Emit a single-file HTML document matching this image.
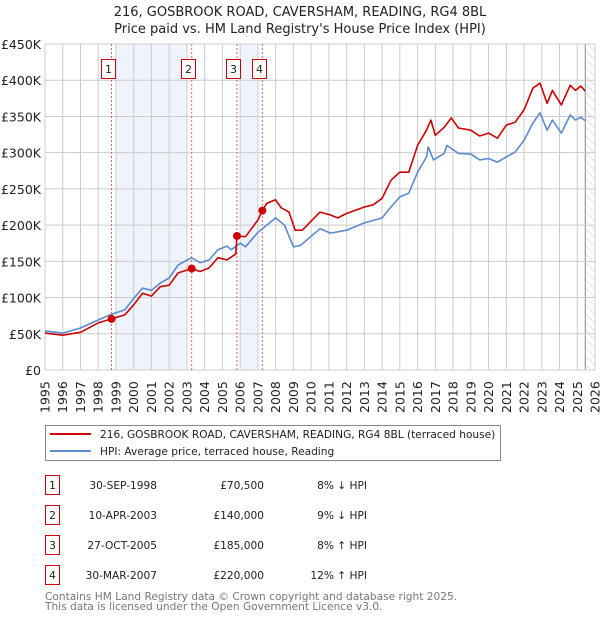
<!DOCTYPE html>
<html><head><meta charset="utf-8">
<style>
body{margin:0;background:#fff;font-family:"DejaVu Sans","Liberation Sans",sans-serif;}
#wrap{position:relative;width:600px;height:620px;overflow:hidden;}
svg text{font-family:"DejaVu Sans","Liberation Sans",sans-serif;}
</style></head>
<body><div id="wrap">
<svg id="chart" width="600" height="620"></svg>
</div>
<script>
const hpiYears=[1995,1996,1997,1998,1998.75,1999.5,2000,2000.5,2001,2001.5,2002,2002.5,2003.25,2003.75,2004.25,2004.75,2005.25,2005.5,2006,2006.3,2007,2007.5,2008,2008.5,2009,2009.4,2010.5,2011.1,2012,2013,2014,2014.5,2015,2015.5,2016,2016.5,2016.6,2016.9,2017.5,2017.65,2018.3,2019,2019.5,2020,2020.5,2021,2021.5,2022,2022.5,2022.9,2023.3,2023.6,2024.1,2024.6,2024.9,2025.2,2025.45];
const hpiValues=[54,51,58,69,77,83,99,113,110,120,127,145,155,148,152,166,171,166,175,170,190,200,210,200,170,172,195,189,193,203,210,225,239,244,273,294,308,290,299,310,299,298,290,292,287,294,301,317,341,355,331,345,327,352,345,349,344];
const priceYears=[1995,1996,1997,1998,1998.75,1999.5,2000,2000.5,2001,2001.5,2002,2002.5,2003.27,2003.75,2004.25,2004.75,2005.25,2005.75,2005.82,2006.3,2007,2007.25,2007.5,2008,2008.3,2008.75,2009.1,2009.5,2010.5,2011.1,2011.5,2012,2013,2013.5,2014,2014.5,2015,2015.5,2016,2016.5,2016.75,2017,2017.5,2017.9,2018.3,2019,2019.5,2020,2020.5,2021,2021.5,2022,2022.5,2022.9,2023.3,2023.6,2024.1,2024.6,2024.9,2025.2,2025.45];
const priceValues=[51,48,52,65,70.5,76,90,106,102,115,117,134,140,136,141,155,152,160,185,184,207,220,230,235,224,218,193,193,218,214,210,216,225,228,237,262,273,273,310,331,345,324,335,348,334,331,323,327,320,338,342,359,389,396,368,386,366,393,386,392,385];
const saleYears=[1998.75,2003.27,2005.82,2007.25];
const saleValues=[70.5,140,185,220];
const saleLabels=["1","2","3","4"];
const saleDates=["30-SEP-1998","10-APR-2003","27-OCT-2005","30-MAR-2007"];
const salePrices=["£70,500","£140,000","£185,000","£220,000"];
const saleHpi=["8% ↓ HPI","9% ↓ HPI","8% ↑ HPI","12% ↑ HPI"];
const yTicks=[0,50,100,150,200,250,300,350,400,450];
const yTickLabels=["£0","£50K","£100K","£150K","£200K","£250K","£300K","£350K","£400K","£450K"];
const xTicks=[1995,1996,1997,1998,1999,2000,2001,2002,2003,2004,2005,2006,2007,2008,2009,2010,2011,2012,2013,2014,2015,2016,2017,2018,2019,2020,2021,2022,2023,2024,2025,2026];
const shadeRanges=[[1999,2003],[2006,2007]];

const L=45,R=595,T=44,B=370;
const X=y=>L+(y-1995)/(2026-1995)*(R-L);
const Y=v=>B-v/450*(B-T);
const NS="http://www.w3.org/2000/svg";
const svg=document.getElementById('chart');
function mk(tag,attrs,parent){const e=document.createElementNS(NS,tag);for(const k in attrs)e.setAttribute(k,attrs[k]);(parent||svg).appendChild(e);return e;}

let t=mk('text',{x:300,y:16,'text-anchor':'middle','font-size':13,fill:'#222'});t.textContent='216, GOSBROOK ROAD, CAVERSHAM, READING, RG4 8BL';


t=mk('text',{x:300,y:33,'text-anchor':'middle','font-size':13,fill:'#222'});t.textContent="Price paid vs. HM Land Registry's House Price Index (HPI)";



shadeRanges.forEach(r=>{const e=mk('rect',{x:X(r[0]),y:T,width:X(r[1])-X(r[0]),height:B-T,fill:'#eef3fc'});

});
const defs=mk('defs',{});
const pat=mk('pattern',{id:'hatch',width:6,height:6,patternUnits:'userSpaceOnUse',patternTransform:'rotate(-45)'},defs);
mk('line',{x1:0,y1:0,x2:0,y2:6,stroke:'#ccc','stroke-width':1},pat);
let h=mk('rect',{x:X(2025.45),y:T,width:R-X(2025.45),height:B-T,fill:'url(#hatch)'});


mk('line',{x1:X(2025.45),y1:T,x2:X(2025.45),y2:B,stroke:'#888','stroke-width':1});

xTicks.forEach((yr,i)=>{
 const g=mk('line',{x1:X(yr),y1:T,x2:X(yr),y2:B,stroke:'#ccc','stroke-width':1});
 
 
 const tx=mk('text',{transform:`translate(${X(yr)+4.5},${B+43}) rotate(-90)`,'font-size':12.5,fill:'#222'});
 tx.textContent=yr;
 
 
});
yTicks.forEach((v,i)=>{
 const g=mk('line',{x1:L,y1:Y(v),x2:R,y2:Y(v),stroke:'#ccc','stroke-width':1});
 
 
 const tx=mk('text',{x:L-4,y:Y(v)+5,'text-anchor':'end','font-size':12.5,fill:'#222'});
 tx.textContent=yTickLabels[i];
 
 
});

saleYears.forEach((yr,i)=>{
 const l=mk('line',{x1:X(yr),y1:T,x2:X(yr),y2:B,stroke:'#e06060','stroke-width':1,'stroke-dasharray':'2,2'});
 
 
});

function path(xs,vs,color,name){
 const d=xs.map((x,i)=>(i?'L':'M')+X(x).toFixed(1)+','+Y(vs[i]).toFixed(1)).join('');
 const p=mk('path',{d:d,fill:'none',stroke:color,'stroke-width':1.6,'stroke-linejoin':'round'});
 
 
}
path(hpiYears,hpiValues,'#5b8bd0','hpi-line');
path(priceYears,priceValues,'#cc0000','price-line');

saleYears.forEach((yr,i)=>{
 const c=mk('circle',{cx:X(yr),cy:Y(saleValues[i]),r:4,fill:'#cc0000'});
 
 
 const g=mk('g',{});
 
 
 const x0=Math.round(X(yr)-10.5)+0.5;
 mk('rect',{x:x0,y:59.5,width:14,height:19,fill:'#fff',stroke:'#c00','stroke-width':1},g);
 const tt=mk('text',{x:x0+7,y:73,'text-anchor':'middle','font-size':11,fill:'#222'},g);tt.textContent=saleLabels[i];
});

const lg=mk('g',{});


mk('rect',{x:45.5,y:425.5,width:455,height:35,fill:'#fff',stroke:'#888','stroke-width':1},lg);
mk('line',{x1:50,y1:434,x2:91,y2:434,stroke:'#cc0000','stroke-width':2},lg);
mk('line',{x1:50,y1:451,x2:91,y2:451,stroke:'#5b8bd0','stroke-width':2},lg);
t=mk('text',{x:100,y:438,'font-size':10.6,fill:'#222'},lg);t.textContent='216, GOSBROOK ROAD, CAVERSHAM, READING, RG4 8BL (terraced house)';


t=mk('text',{x:100,y:455,'font-size':10.6,fill:'#222'},lg);t.textContent='HPI: Average price, terraced house, Reading';



saleLabels.forEach((lab,i)=>{
 const cy=483+30*i;
 const row=mk('g',{});
 
 
 mk('rect',{x:45.5,y:cy-7.5,width:14,height:19,fill:'#fff',stroke:'#c00','stroke-width':1},row);
 let a=mk('text',{x:52.5,y:cy+6,'text-anchor':'middle','font-size':10.6,fill:'#222'},row);a.textContent=lab;
 a=mk('text',{x:157,y:cy+6,'text-anchor':'end','font-size':10.6,fill:'#222'},row);a.textContent=saleDates[i];
 a=mk('text',{x:264,y:cy+6,'text-anchor':'end','font-size':10.6,fill:'#222'},row);a.textContent=salePrices[i];
 a=mk('text',{x:367,y:cy+6,'text-anchor':'end','font-size':10.6,fill:'#222'},row);a.textContent=saleHpi[i];
});
t=mk('text',{x:45,y:600,'font-size':10.6,fill:'#777'});t.textContent='Contains HM Land Registry data © Crown copyright and database right 2025.';


t=mk('text',{x:45,y:610,'font-size':10.6,fill:'#777'});t.textContent='This data is licensed under the Open Government Licence v3.0.';


</script>
</body></html>
